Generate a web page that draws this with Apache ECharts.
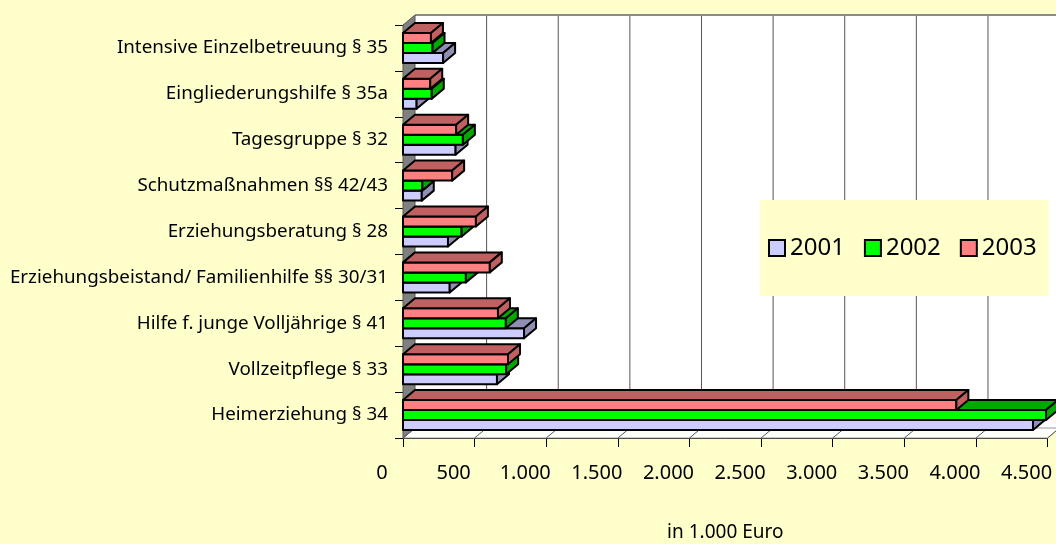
<!DOCTYPE html>
<html>
<head>
<meta charset="utf-8">
<script src="https://cdn.jsdelivr.net/npm/echarts@6/dist/echarts.min.js"></script>
<style>
  html, body { margin: 0; padding: 0; background: #FFFFCC; }
  #chart { width: 1056px; height: 544px; }
</style>
</head>
<body>
<div id="chart"></div>
<script>
// categories, bottom to top
var categories = [
  'Heimerziehung § 34',
  'Vollzeitpflege § 33',
  'Hilfe f. junge Volljährige § 41',
  'Erziehungsbeistand/ Familienhilfe §§ 30/31',
  'Erziehungsberatung § 28',
  'Schutzmaßnahmen §§ 42/43',
  'Tagesgruppe § 32',
  'Eingliederungshilfe § 35a',
  'Intensive Einzelbetreuung § 35'
]
var years = ['2001', '2002', '2003']
var values2001 = [4398, 656, 845, 326, 314, 131, 367, 95, 280]
var values2002 = [4489, 720, 718, 439, 409, 135, 418, 201, 206]
var values2003 = [3863, 733, 663, 606, 509, 343, 371, 190, 195]
var xTicks = [0, 500, 1000, 1500, 2000, 2500, 3000, 3500, 4000, 4500]

var frontColors = ['#CCCCFF', '#00FF00', '#FF8080']
var darkColors = ['#8F8FB3', '#00A800', '#C06060']
var DX = 12, DY = 10   // 3d depth offset
var font = 'Noto Sans'

function fmt(v) {
  return String(v).replace(/\B(?=(\d{3})+(?!\d))/g, '.')
}

function barRenderer(s) {
  return function (params, api) {
    var v = api.value(0)
    var c = api.value(1)
    var p0 = api.coord([0, c])
    var p1 = api.coord([v, c])
    var band = api.size([0, 1])[1]
    var h = band * 0.218
    var x0 = p0[0], x1 = p1[0]
    var top = p0[1] + (0.5 - s) * h
    var line = { stroke: '#000', lineWidth: 2, lineJoin: 'round' }
    return {
      type: 'group',
      children: [
        {
          type: 'polygon',
          shape: { points: [[x0, top], [x1, top], [x1, top + h], [x0, top + h]] },
          style: Object.assign({ fill: frontColors[s] }, line)
        },
        {
          type: 'polygon',
          shape: { points: [[x0, top], [x0 + DX, top - DY], [x1 + DX, top - DY], [x1, top]] },
          style: Object.assign({ fill: darkColors[s] }, line)
        },
        {
          type: 'polygon',
          shape: { points: [[x1, top], [x1 + DX, top - DY], [x1 + DX, top - DY + h], [x1, top + h]] },
          style: Object.assign({ fill: darkColors[s] }, line)
        }
      ]
    }
  }
}

function wallRenderer(params, api) {
  var cs = params.coordSys
  var x0 = cs.x, y0 = cs.y, w = cs.width, bottom = cs.y + cs.height
  var children = []
  children.push({
    type: 'rect',
    shape: { x: x0 + DX, y: y0 - DY, width: w + 30, height: cs.height },
    style: { fill: '#fff' }
  })
  xTicks.forEach(function (t) {
    if (t === 0) return
    var x = api.coord([t, 0])[0]
    children.push({
      type: 'line',
      shape: { x1: x + DX, y1: y0 - DY, x2: x + DX, y2: bottom - DY },
      style: { stroke: '#555', lineWidth: 1 }
    })
  })
  children.push({
    type: 'line',
    shape: { x1: x0 + DX, y1: y0 - DY, x2: x0 + w + 40, y2: y0 - DY },
    style: { stroke: '#8a8a8a', lineWidth: 2 }
  })
  children.push({
    type: 'polygon',
    shape: { points: [[x0, bottom], [x0 + DX, bottom - DY], [x0 + w + DX, bottom - DY], [x0 + w, bottom]] },
    style: { fill: '#fff', stroke: '#999', lineWidth: 1 }
  })
  xTicks.forEach(function (t) {
    var x = api.coord([t, 0])[0]
    children.push({
      type: 'line',
      shape: { x1: x, y1: bottom, x2: x + DX, y2: bottom - DY },
      style: { stroke: '#555', lineWidth: 1 }
    })
  })
  children.push({
    type: 'polygon',
    shape: { points: [[x0, y0], [x0 + DX, y0 - DY], [x0 + DX, bottom - DY], [x0, bottom]] },
    style: { fill: '#808080', stroke: '#555', lineWidth: 1 }
  })
  return { type: 'group', children: children }
}

var allValues = [values2001, values2002, values2003]
var series = [{
  type: 'custom',
  name: 'walls',
  renderItem: wallRenderer,
  data: [[0, 0]],
  encode: { x: 0, y: 1 },
  silent: true,
  z: 1
}]
years.forEach(function (y, s) {
  series.push({
    type: 'custom',
    name: y,
    renderItem: barRenderer(s),
    itemStyle: { color: frontColors[s] },
    encode: { x: 0, y: 1 },
    data: allValues[s].map(function (v, i) { return [v, i] }),
    z: 2
  })
})

var myChart = echarts.init(document.getElementById('chart'))
var option = {
  backgroundColor: '#FFFFCC',
  animation: false,
  grid: { left: 403, right: 8.4, top: 25, bottom: 106, containLabel: false, outerBoundsMode: 'none' },
  legend: {
    data: years,
    left: 760,
    top: 200,
    orient: 'horizontal',
    backgroundColor: '#FFFFCC',
    padding: [36, 12, 36, 8],
    itemGap: 19,
    itemWidth: 16,
    itemHeight: 16,
    icon: 'rect',
    itemStyle: { borderColor: '#000', borderWidth: 2 },
    textStyle: { fontFamily: font, fontSize: 24, color: '#000' }
  },
  xAxis: {
    type: 'value',
    min: 0,
    max: 4500,
    interval: 500,
    name: 'in 1.000 Euro',
    nameLocation: 'middle',
    nameGap: 85,
    nameTextStyle: { fontFamily: font, fontSize: 19, color: '#000' },
    axisLine: { show: true, lineStyle: { color: '#000', width: 1 } },
    axisTick: { show: true, length: 9, lineStyle: { color: '#000' } },
    axisLabel: {
      fontFamily: font, fontSize: 20, color: '#000', margin: 25,
      padding: [0, 42, 0, 0],
      formatter: fmt
    },
    splitLine: { show: false }
  },
  yAxis: {
    type: 'category',
    data: categories,
    axisLine: { show: true, lineStyle: { color: '#000', width: 1 } },
    axisTick: { show: true, length: 8, lineStyle: { color: '#000' } },
    axisLabel: { fontFamily: font, fontSize: 18.8, color: '#000', margin: 15 },
    splitLine: { show: false }
  },
  series: series
}
myChart.setOption(option)
</script>
</body>
</html>
